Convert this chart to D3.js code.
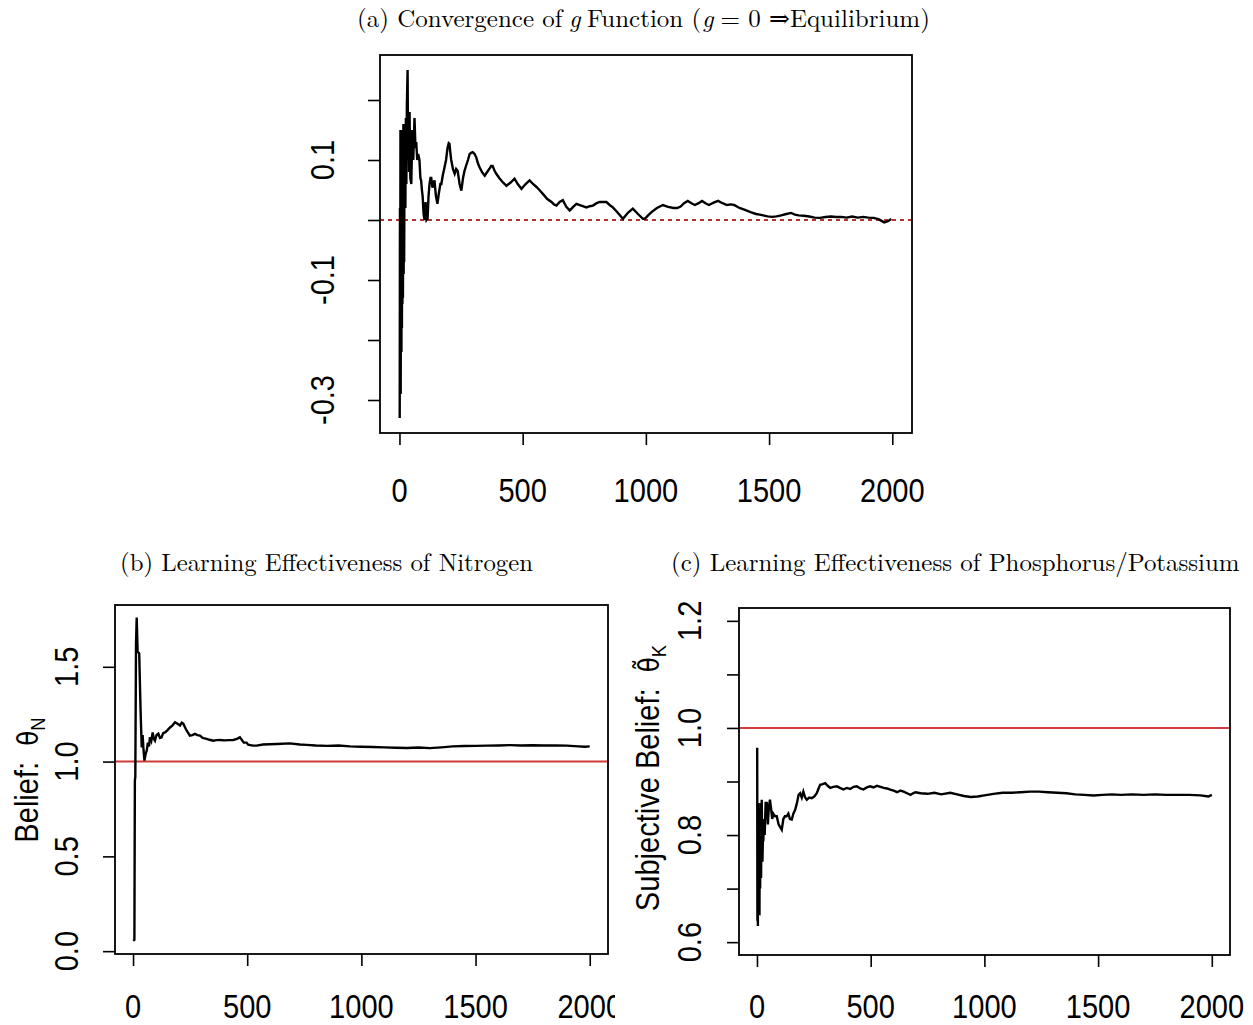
<!DOCTYPE html>
<html><head><meta charset="utf-8">
<script src="https://cdn.jsdelivr.net/npm/d3@7"></script>
<style>body{margin:0;background:#fff} svg{display:block}</style>
</head><body>
<svg id="c" width="1253" height="1025"></svg>
<script>
// ---------------- DATA ----------------
const iterA = [1,2,3,4,5,6,7,8,9,10,11,12,13,14,15,16,17,18,19,20,22,24,26,28,30,33,35,37,39,41,44,48,52,56,61,65,68,72,76,81,85,88,91,94,98,102,106,110,114,118,122,126,129,134,138,142,148,154,160,166,170,176,183,189,195,200,203,207,210,217,224,230,236,244,251,258,264,270,278,285,291,297,305,312,318,325,335,346,356,366,372,378,386,393,405,419,427,434,450,467,480,495,512,528,542,556,568,581,600,617,627,637,650,663,677,691,705,718,738,759,772,785,800,813,826,840,853,866,886,907,927,947,968,988,996,1010,1024,1045,1069,1090,1112,1127,1141,1155,1170,1185,1199,1214,1228,1242,1256,1275,1293,1311,1329,1345,1358,1380,1402,1425,1447,1462,1476,1494,1512,1530,1549,1570,1589,1605,1620,1641,1663,1685,1707,1729,1751,1772,1793,1815,1837,1860,1882,1903,1925,1946,1967,1982,1996];
const gA = [-0.33,0.02,-0.24,0.15,-0.29,-0.03,0.15,-0.22,-0.02,-0.18,0.0,-0.14,0.04,-0.13,-0.03,0.16,-0.09,0.02,-0.07,0.05,0.15,0.02,0.17,0.06,0.19,0.25,0.10,0.18,0.08,0.18,0.07,0.06,0.15,0.10,0.17,0.12,0.13,0.10,0.11,0.10,0.07,0.066,0.05,0.04,0.01,0.0,0.03,0.0,0.002,0.04,0.06,0.07,0.07,0.054,0.06,0.066,0.04,0.027,0.045,0.06,0.06,0.075,0.088,0.10,0.12,0.128,0.127,0.11,0.10,0.085,0.077,0.085,0.082,0.06,0.049,0.07,0.082,0.09,0.10,0.11,0.112,0.113,0.11,0.104,0.095,0.088,0.08,0.074,0.08,0.086,0.09,0.09,0.082,0.077,0.07,0.063,0.06,0.057,0.062,0.069,0.06,0.052,0.06,0.066,0.06,0.055,0.05,0.044,0.035,0.03,0.026,0.024,0.03,0.033,0.022,0.016,0.022,0.027,0.024,0.021,0.023,0.024,0.028,0.03,0.03,0.03,0.025,0.021,0.012,0.002,0.012,0.019,0.01,0.002,0.002,0.008,0.0135,0.02,0.025,0.022,0.02,0.02,0.0225,0.028,0.0318,0.028,0.025,0.028,0.0318,0.028,0.025,0.029,0.0318,0.028,0.025,0.026,0.025,0.02,0.0168,0.013,0.010,0.009,0.0077,0.006,0.0052,0.006,0.0077,0.01,0.0118,0.009,0.0077,0.007,0.0058,0.004,0.0035,0.005,0.0058,0.005,0.0052,0.004,0.0058,0.004,0.0052,0.004,0.0035,0.001,-0.004,-0.002,0.0018];

const iterB = [1,6,8,10,13,16,20,27,33,38,42,46,50,55,60,65,70,74,80,86,91,96,103,111,118,125,132,140,150,162,172,184,195,206,213,220,228,235,242,249,260,271,282,293,305,322,335,351,365,381,400,420,439,455,468,485,497,504,525,541,569,629,687,730,760,800,850,900,950,1000,1050,1100,1150,1200,1250,1300,1350,1400,1450,1500,1550,1600,1650,1700,1750,1800,1850,1900,1950,1980,2000];
const beliefN = [0.054,0.06,0.90,0.92,1.62,1.76,1.58,1.57,1.27,1.075,1.14,1.06,1.005,1.04,1.058,1.10,1.08,1.128,1.11,1.154,1.12,1.11,1.14,1.147,1.125,1.128,1.15,1.154,1.165,1.18,1.19,1.207,1.20,1.19,1.205,1.2,1.18,1.163,1.15,1.137,1.14,1.146,1.14,1.137,1.125,1.12,1.115,1.11,1.113,1.114,1.112,1.113,1.114,1.12,1.128,1.1,1.10,1.089,1.084,1.084,1.09,1.093,1.096,1.09,1.088,1.085,1.083,1.085,1.08,1.078,1.077,1.075,1.073,1.072,1.074,1.071,1.075,1.08,1.082,1.083,1.084,1.085,1.087,1.085,1.086,1.085,1.085,1.084,1.08,1.078,1.08];

const iterC = [1,2,3,4,5,6,7,8,10,11,12,14,16,18,21,24,26,28,31,34,38,43,48,52,57,62,67,72,80,87,95,102,109,116,123,130,138,145,153,160,168,176,183,190,197,204,212,219,230,241,252,263,270,278,289,300,311,322,336,351,365,380,395,410,425,439,454,468,483,498,513,528,543,557,572,586,601,616,630,645,660,675,686,697,720,750,780,810,850,880,910,940,970,1000,1040,1080,1120,1160,1200,1240,1280,1320,1360,1400,1440,1480,1520,1560,1600,1650,1700,1750,1800,1850,1900,1950,1985,2000];
const beliefK = [0.963,0.64,0.75,0.63,0.86,0.66,0.85,0.68,0.84,0.65,0.80,0.70,0.86,0.72,0.866,0.75,0.79,0.79,0.83,0.80,0.86,0.86,0.82,0.85,0.866,0.85,0.83,0.84,0.835,0.835,0.82,0.815,0.81,0.83,0.835,0.835,0.84,0.83,0.829,0.84,0.847,0.86,0.875,0.878,0.87,0.881,0.87,0.866,0.87,0.869,0.872,0.878,0.886,0.894,0.895,0.897,0.892,0.888,0.89,0.891,0.888,0.885,0.888,0.886,0.89,0.891,0.887,0.885,0.889,0.891,0.889,0.892,0.89,0.888,0.887,0.885,0.883,0.88,0.883,0.881,0.878,0.875,0.878,0.88,0.878,0.877,0.879,0.876,0.879,0.876,0.873,0.871,0.872,0.874,0.877,0.879,0.879,0.88,0.881,0.881,0.88,0.879,0.878,0.876,0.875,0.874,0.875,0.876,0.875,0.876,0.875,0.876,0.875,0.875,0.875,0.874,0.872,0.875];

const xTicks = [0, 500, 1000, 1500, 2000];
const yTicksA = [-0.3, -0.2, -0.1, 0, 0.1, 0.2];
const yLabelsA = [-0.3, -0.1, 0.1];
const yTicksB = [0, 0.5, 1.0, 1.5];
const yLabelsB = [0, 0.5, 1.0, 1.5];
const yTicksC = [0.6, 0.7, 0.8, 0.9, 1.0, 1.1, 1.2];
const yLabelsC = [0.6, 0.8, 1.0, 1.2];
const refA = 0, refB = 1, refC = 1;
const xDomain = [-79, 2080];
const yDomainA = [-0.355, 0.275];
const yDomainB = [-0.015, 1.826];
const yDomainC = [0.576, 1.224];

// ---------------- DRAW ----------------
const svg = d3.select("#c");
const SANS = "'Liberation Sans', Arial, Helvetica, sans-serif";
const SERIF = "'Latin Modern Roman','CMU Serif','Liberation Serif','DejaVu Serif',serif";
const fmt = v => d3.format(".1f")(v).replace("\u2212", "-");
const FS = 33, SQ = 0.88;   // tick-label size and squeeze along the text (narrow font look)

function panel(cfg) {
  const g = svg.append("g");
  if (cfg.clip) {
    const id = "clip" + cfg.key;
    svg.append("clipPath").attr("id", id).append("rect")
      .attr("x", cfg.clip[0]).attr("y", cfg.clip[1]).attr("width", cfg.clip[2]).attr("height", cfg.clip[3]);
    g.attr("clip-path", `url(#${id})`);
  }
  const {l, r, t, b} = cfg.box;
  const x = d3.scaleLinear().domain(xDomain).range([l, r]);
  const y = d3.scaleLinear().domain(cfg.yDomain).range([b, t]);

  const xa = g.append("g").attr("transform", `translate(0,${b})`)
    .call(d3.axisBottom(x).tickValues(xTicks).tickSize(cfg.tick).tickSizeOuter(0).tickFormat(""));
  xa.select(".domain").remove();
  xa.selectAll("line").attr("stroke", "#000").attr("stroke-width", 1.6);
  g.selectAll(null).data(xTicks).join("text")
    .attr("transform", d => `translate(${x(d)},${cfg.xLabelY}) scale(${SQ},1)`)
    .attr("text-anchor", "middle").attr("font-family", SANS).attr("font-size", FS)
    .attr("fill", "#000").text(d => d);

  const ya = g.append("g").attr("transform", `translate(${l},0)`)
    .call(d3.axisLeft(y).tickValues(cfg.yTicks).tickSize(cfg.tick).tickSizeOuter(0).tickFormat(""));
  ya.select(".domain").remove();
  ya.selectAll("line").attr("stroke", "#000").attr("stroke-width", 1.6);
  g.selectAll(null).data(cfg.yLabels).join("text")
    .attr("transform", d => `translate(${cfg.yLabelX},${y(d)}) rotate(-90) scale(${SQ},1)`)
    .attr("text-anchor", "middle").attr("font-family", SANS).attr("font-size", FS)
    .attr("fill", "#000").text(d => fmt(d));

  const pid = "plot" + cfg.key;
  svg.append("clipPath").attr("id", pid).append("rect")
    .attr("x", l).attr("y", t).attr("width", r - l).attr("height", b - t);
  const pg = g.append("g").attr("clip-path", `url(#${pid})`);

  pg.append("line").attr("x1", l).attr("x2", r).attr("y1", y(cfg.ref)).attr("y2", y(cfg.ref))
    .attr("stroke", cfg.refColor).attr("stroke-width", cfg.refWidth)
    .attr("stroke-dasharray", cfg.refDash || null);

  const line = d3.line().x(d => x(d[0])).y(d => y(d[1]));
  pg.append("path").datum(d3.zip(cfg.xs, cfg.ys)).attr("d", line)
    .attr("fill", "none").attr("stroke", "#000").attr("stroke-width", 2.4)
    .attr("stroke-linejoin", "miter");

  g.append("rect").attr("x", l).attr("y", t).attr("width", r - l).attr("height", b - t)
    .attr("fill", "none").attr("stroke", "#000").attr("stroke-width", 1.8);
}

panel({key: "a", box: {l: 380, r: 912, t: 55, b: 433}, yDomain: yDomainA,
  yTicks: yTicksA, yLabels: yLabelsA, xs: iterA, ys: gA, ref: refA,
  refColor: "#b83232", refWidth: 2, refDash: "4,4",
  tick: 12, xLabelY: 502, yLabelX: 334});

panel({key: "b", box: {l: 115, r: 608, t: 605, b: 954}, yDomain: yDomainB,
  yTicks: yTicksB, yLabels: yLabelsB, xs: iterB, ys: beliefN, ref: refB,
  refColor: "#d23c3c", refWidth: 2, clip: [0, 580, 615, 445],
  tick: 12, xLabelY: 1018, yLabelX: 78});

panel({key: "c", box: {l: 739, r: 1230, t: 608, b: 955}, yDomain: yDomainC,
  yTicks: yTicksC, yLabels: yLabelsC, xs: iterC, ys: beliefK, ref: refC,
  refColor: "#d23c3c", refWidth: 2,
  tick: 12, xLabelY: 1018, yLabelX: 701});

// Y axis titles
function yTitle(xp, yc, main, sym, sub) {
  const t = svg.append("text").attr("transform", `translate(${xp},${yc}) rotate(-90) scale(${SQ},1)`)
    .attr("text-anchor", "middle").attr("font-family", SANS).attr("font-size", 33)
    .attr("fill", "#000").style("white-space", "pre");
  t.append("tspan").text(main);
  t.append("tspan").attr("font-family", "'DejaVu Sans', sans-serif").attr("font-size", 28).text(sym);
  t.append("tspan").attr("font-size", 21).attr("dy", 7).text(sub);
}
yTitle(38, 780, "Belief:  ", "\u03B8", "N");
yTitle(659, 778, "Subjective Belief:  ", "\u03B8\u0303", "K");

// Titles: pieces laid out one after another (gap after each piece), fitted to the measured width
function title(x1, x2, yb, parts) {
  const grp = svg.append("g");
  const base = 25;
  const nodes = parts.map(p => grp.append("text").attr("y", yb)
    .attr("font-family", SERIF).attr("font-size", base).attr("fill", "#000")
    .attr("font-style", p[1] ? "italic" : "normal").text(p[0]));
  const widths = nodes.map(n => n.node().getComputedTextLength());
  const gaps = parts.map((p, i) => i === parts.length - 1 ? 0 : (p[2] === undefined ? 6.5 : p[2]));
  const total = d3.sum(widths) + d3.sum(gaps);
  const k = (x2 - x1) / total;
  let cx = x1;
  nodes.forEach((n, i) => {
    n.attr("font-size", base * k).attr("x", cx);
    cx += (widths[i] + gaps[i]) * k;
  });
}
title(357, 930, 27, [["(a) Convergence of"], ["g", 1], ["Function (", 0, 0.5], ["g", 1, 7], ["= 0 \u21D2Equilibrium)"]]);
title(120, 533, 571, [["(b) Learning Effectiveness of Nitrogen"]]);
title(671, 1240, 571, [["(c) Learning Effectiveness of Phosphorus/Potassium"]]);
</script>
</body></html>
